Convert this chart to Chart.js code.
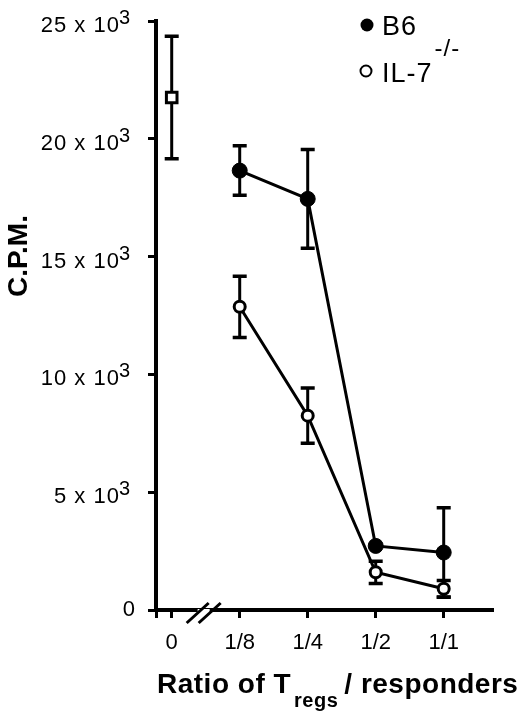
<!DOCTYPE html>
<html>
<head>
<meta charset="utf-8">
<script src="https://cdn.jsdelivr.net/npm/chart.js@4"></script>
<style>
  body { margin: 0; background: #fff; }
  #wrap { width: 520px; height: 714px; }
</style>
</head>
<body>
<div id="wrap"><canvas id="chart" width="520" height="714"></canvas></div>
<script>
// tick labels
const xTickValues = [0, 1, 2, 3, 4];
const xTickLabels = ['0', '1/8', '1/4', '1/2', '1/1'];
const yTickValues = [0, 5000, 10000, 15000, 20000, 25000];
const yTickLabels = ['0', '5 x 10³', '10 x 10³', '15 x 10³', '20 x 10³', '25 x 10³'];

// responders alone (ratio 0)
const controlX = [0];
const controlMean = [21750];
const controlErr = [2600];

// with Tregs
const treatedX = [1, 2, 3, 4];
const b6Mean = [18650, 17450, 2720, 2440];
const b6Err = [1050, 2100, 0, 1900];
const il7Mean = [12870, 8250, 1600, 900];
const il7Err = [1300, 1170, 470, 350];

const seriesNames = ['B6', 'IL-7'];
const seriesSup = ['', '-/-'];
const yTitle = 'C.P.M.';
const xTitleParts = ['Ratio of T', 'regs', '/ responders'];

const FONT = '"Liberation Sans", Arial, Helvetica, sans-serif';
const breakAt = 0.47;

function toPoints(xs, ys) {
  return xs.map((x, i) => ({ x: x, y: ys[i] }));
}

// error bars go under the markers
const errorBars = {
  id: 'errorBars',
  beforeDatasetsDraw(chart) {
    const { ctx, scales: { x, y } } = chart;
    ctx.save();
    ctx.strokeStyle = '#000';
    chart.data.datasets.forEach(ds => {
      ds.data.forEach((p, i) => {
        if (!ds.err[i]) return;
        const px = x.getPixelForValue(p.x);
        const top = y.getPixelForValue(p.y + ds.err[i]);
        const bot = y.getPixelForValue(p.y - ds.err[i]);
        ctx.lineWidth = 3;
        ctx.beginPath();
        ctx.moveTo(px, top);
        ctx.lineTo(px, bot);
        ctx.stroke();
        ctx.lineWidth = 3.5;
        ctx.beginPath();
        ctx.moveTo(px - 7, top); ctx.lineTo(px + 7, top);
        ctx.moveTo(px - 7, bot); ctx.lineTo(px + 7, bot);
        ctx.stroke();
      });
    });
    ctx.restore();
  }
};

const decorations = {
  id: 'decorations',
  beforeDraw(chart) {
    const ctx = chart.ctx;
    ctx.save();
    ctx.fillStyle = '#fff';
    ctx.fillRect(0, 0, chart.width, chart.height);
    ctx.restore();
  },
  afterDraw(chart) {
    const { ctx, scales: { x, y } } = chart;
    ctx.save();
    ctx.fillStyle = '#000';
    ctx.strokeStyle = '#000';

    // axis break
    const cx = x.getPixelForValue(breakAt);
    const ay = y.getPixelForValue(0) + 2;
    ctx.fillStyle = '#fff';
    ctx.fillRect(cx - 6, ay - 3, 12, 6);
    ctx.lineWidth = 3;
    ctx.beginPath();
    [-6, 6].forEach(off => {
      ctx.moveTo(cx + off - 11, ay + 11);
      ctx.lineTo(cx + off + 11, ay - 9);
    });
    ctx.stroke();
    ctx.fillStyle = '#000';

    // y tick labels with superscript exponent
    const right = x.left - 26;
    ctx.textAlign = 'right';
    ctx.textBaseline = 'alphabetic';
    yTickValues.forEach((v, i) => {
      const py = y.getPixelForValue(v);
      const lbl = yTickLabels[i];
      if (lbl.endsWith('³')) {
        ctx.letterSpacing = '0px';
        ctx.font = '20px ' + FONT;
        ctx.fillText('3', right, py + 3);
        const w = ctx.measureText('3').width;
        ctx.font = '22px ' + FONT;
        ctx.letterSpacing = '1px';
        ctx.fillText(lbl.slice(0, -1), right - w + 1, py + 11);
      } else {
        ctx.letterSpacing = '0px';
        ctx.font = '22px ' + FONT;
        ctx.fillText(lbl, right + 5, py + 6);
      }
    });
    ctx.letterSpacing = '0px';

    // y title
    ctx.save();
    ctx.translate(27, 256);
    ctx.rotate(-Math.PI / 2);
    ctx.textAlign = 'center';
    ctx.font = 'bold 28px ' + FONT;
    ctx.fillText(yTitle, 0, 0);
    ctx.restore();

    // x title with subscript
    ctx.textAlign = 'left';
    let tx = 157;
    ctx.letterSpacing = '0.5px';
    ctx.font = 'bold 28px ' + FONT;
    ctx.fillText(xTitleParts[0], tx, 693);
    tx += ctx.measureText(xTitleParts[0]).width + 3;
    ctx.font = 'bold 20px ' + FONT;
    ctx.fillText(xTitleParts[1], tx, 707);
    tx += ctx.measureText(xTitleParts[1]).width + 6;
    ctx.font = 'bold 28px ' + FONT;
    ctx.fillText(xTitleParts[2], tx, 693);
    ctx.letterSpacing = '0px';

    // legend
    ctx.beginPath();
    ctx.arc(367, 25, 6.5, 0, Math.PI * 2);
    ctx.fill();
    ctx.lineWidth = 2;
    ctx.beginPath();
    ctx.arc(366, 71, 5.5, 0, Math.PI * 2);
    ctx.stroke();
    ctx.font = '27px ' + FONT;
    ctx.letterSpacing = '1px';
    ctx.fillText(seriesNames[0], 382, 35);
    ctx.fillText(seriesNames[1], 382, 82);
    const lw = ctx.measureText(seriesNames[1]).width;
    ctx.font = '24px ' + FONT;
    ctx.fillText(seriesSup[1], 382 + lw + 2, 56);

    ctx.restore();
  }
};

const datasets = [
  {
    label: 'control',
    data: toPoints(controlX, controlMean),
    err: controlErr,
    showLine: false,
    pointStyle: 'rect',
    pointRadius: 7.5,
    pointBackgroundColor: '#fff',
    pointBorderColor: '#000',
    pointBorderWidth: 3
  },
  {
    label: seriesNames[0],
    data: toPoints(treatedX, b6Mean),
    err: b6Err,
    borderColor: '#000',
    borderWidth: 3,
    pointRadius: 7.5,
    pointBackgroundColor: '#000',
    pointBorderColor: '#000',
    pointBorderWidth: 1
  },
  {
    label: seriesNames[1],
    data: toPoints(treatedX, il7Mean),
    err: il7Err,
    borderColor: '#000',
    borderWidth: 3,
    pointRadius: 5.5,
    pointBackgroundColor: '#fff',
    pointBorderColor: '#000',
    pointBorderWidth: 3
  }
];

const ctx = document.getElementById('chart').getContext('2d');

new Chart(ctx, {
  type: 'line',
  data: { datasets: datasets },
  options: {
    responsive: false,
    animation: false,
    events: [],
    clip: false,
    elements: { line: { tension: 0, fill: false } },
    layout: { padding: { top: 21, right: 27, left: 0, bottom: 0 } },
    plugins: { legend: { display: false }, tooltip: { enabled: false } },
    scales: {
      x: {
        type: 'linear',
        min: -0.231,
        max: 4.725,
        afterFit: s => { s.height = 104; },
        afterBuildTicks: s => {
          s.ticks = [s.min].concat(xTickValues).map(v => ({ value: v }));
        },
        grid: { drawOnChartArea: false, drawTicks: true, tickLength: 8, tickWidth: 3, tickColor: '#000' },
        border: { display: true, width: 4, color: '#000' },
        ticks: {
          color: '#000',
          padding: 12,
          font: { family: FONT, size: 22 },
          callback: v => {
            const i = xTickValues.indexOf(v);
            return i >= 0 ? xTickLabels[i] : '';
          }
        }
      },
      y: {
        min: 0,
        max: 25000,
        afterFit: s => { s.width = 156; },
        afterBuildTicks: s => {
          s.ticks = yTickValues.map(v => ({ value: v }));
        },
        grid: { drawOnChartArea: false, drawTicks: true, tickLength: 8, tickWidth: 3, tickColor: '#000' },
        border: { display: true, width: 4, color: '#000' },
        ticks: { callback: () => '' }
      }
    }
  },
  plugins: [errorBars, decorations]
});
</script>
</body>
</html>
